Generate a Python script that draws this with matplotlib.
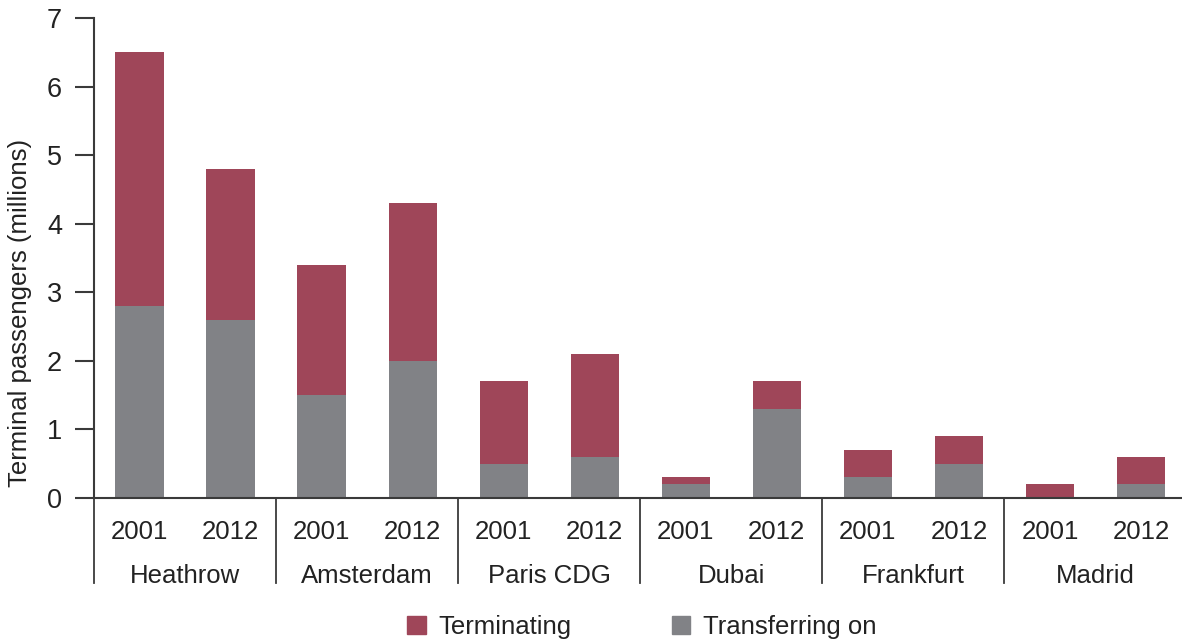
import matplotlib
matplotlib.use("Agg")
import matplotlib.pyplot as plt
import matplotlib.transforms as mtransforms
from matplotlib.patches import Patch

airports = ["Heathrow", "Amsterdam", "Paris CDG", "Dubai", "Frankfurt", "Madrid"]
years = ["2001", "2012"]
transferring = [2.8, 2.6, 1.5, 2.0, 0.5, 0.6, 0.2, 1.3, 0.3, 0.5, 0.0, 0.2]
terminating = [3.7, 2.2, 1.9, 2.3, 1.2, 1.5, 0.1, 0.4, 0.4, 0.4, 0.2, 0.4]

red = "#9f4659"
grey = "#818286"
axcol = "#3a3a3a"
txt = "#222222"
fs = 18.5

plt.rcParams["font.family"] = ["Liberation Sans", "DejaVu Sans"]

fig = plt.figure(figsize=(11.82, 6.4), dpi=100)
ax = fig.add_axes([94 / 1182, 1 - 498 / 640, 1 - 94 / 1182, 480 / 640])

x = list(range(len(transferring)))
ax.bar(x, transferring, width=0.53, color=grey, zorder=2)
ax.bar(x, terminating, bottom=transferring, width=0.53, color=red, zorder=2)

ax.set_xlim(-0.5, 11.45)
ax.set_ylim(0, 7)
ax.set_yticks(range(8))
ax.tick_params(axis="y", direction="out", length=14, width=1.5, color=axcol,
               labelsize=fs + 1, pad=9, labelcolor=txt)
ax.set_xticks(x)
ax.set_xticklabels(years * len(airports))
ax.tick_params(axis="x", length=0, labelsize=fs, pad=16, labelcolor=txt)

for s in ["top", "right"]:
    ax.spines[s].set_visible(False)
ax.spines["left"].set_color(axcol)
ax.spines["left"].set_linewidth(1.5)
ax.spines["bottom"].set_color(axcol)
ax.spines["bottom"].set_linewidth(1.5)

ax.set_ylabel("Terminal passengers (millions)", fontsize=fs, color=txt)
ax.yaxis.set_label_coords(-0.057, 0.385)

trans = mtransforms.blended_transform_factory(ax.transData, ax.transAxes)
sep_bottom = -(583 - 498) / 480
for i in range(len(airports)):
    ax.plot([2 * i - 0.5, 2 * i - 0.5], [0, sep_bottom], transform=trans,
            color=axcol, lw=1.3, clip_on=False)
    ax.text(2 * i + 0.5, -(576 - 498) / 480, airports[i], transform=trans,
            ha="center", va="center", fontsize=fs, color=txt)

handles = [Patch(color=red, label="Terminating"), Patch(color=grey, label="Transferring on")]
fig.legend(handles=handles, loc="center", bbox_to_anchor=(0.543, 1 - 627 / 640), ncol=2,
           frameon=False, fontsize=fs, handlelength=0.72, handleheight=0.72,
           columnspacing=3.9, handletextpad=0.5, labelcolor=txt)

fig.savefig("out.png", dpi=100)
